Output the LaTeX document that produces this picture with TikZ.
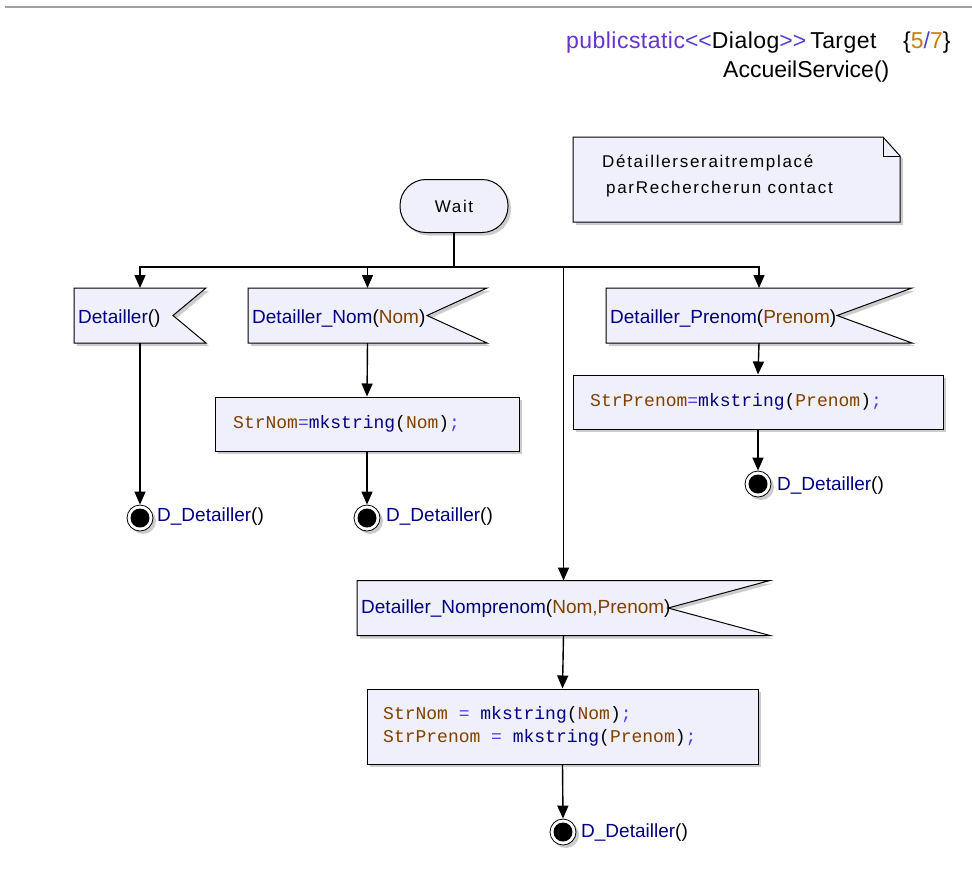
\documentclass[tikz,border=0pt]{standalone}
\usepackage{fontspec}
\setmainfont{Liberation Sans}
\newfontfamily\codefont{Liberation Mono}
\newfontfamily\spacedfont[LetterSpace=10]{Liberation Sans}
\newfontfamily\titlefont[LetterSpace=2]{Liberation Sans}
\usetikzlibrary{arrows.meta,shadows,calc}

\definecolor{boxfill}{RGB}{240,240,252}
\definecolor{evname}{RGB}{0,0,128}
\definecolor{param}{RGB}{128,64,0}
\definecolor{kwpurple}{RGB}{102,51,204}
\definecolor{opviolet}{RGB}{80,64,220}
\definecolor{numgold}{RGB}{192,128,16}
\definecolor{rulegrey}{RGB}{160,160,160}

\begin{document}
\begin{tikzpicture}[x=1pt,y=1pt,
  shade/.style={drop shadow={shadow xshift=3pt,shadow yshift=-3pt,fill=black!40,opacity=.5}},
  slot/.style={rectangle,inner sep=0pt,outer sep=0pt,minimum height=#1},
  slot/.default=55pt,
  figure/.style={draw=black,fill=boxfill,line width=1pt,shade},
  flow/.style={-{Triangle[length=13pt,width=11pt]},line width=1.4pt},
  link/.style={line width=1.4pt},
  evtext/.style={anchor=base west,inner sep=0pt,font=\fontsize{19}{23}\selectfont},
  codetext/.style={anchor=base west,inner sep=0pt,font=\codefont\fontsize{18}{22}\selectfont},
  final/.style={circle,draw=black,fill=white,line width=.8pt,minimum size=26pt,inner sep=0pt,shade},
]
\useasboundingbox (0,0) rectangle (972,-871);

% header rule and title
\draw[rulegrey,line width=1.2pt] (5,-7) -- (972,-7);
\node[anchor=base west,inner sep=0pt,font=\titlefont\fontsize{23}{27}\selectfont] (title) at (566,-48)
  {\textcolor{kwpurple}{publicstatic}\textcolor{opviolet}{<\kern0pt<}Dialog\textcolor{opviolet}{>\kern0pt>}\kern4pt Target};
\node[anchor=base west,inner sep=0pt,font=\fontsize{23}{27}\selectfont] (count) at (903,-48)
  {\{\textcolor{numgold}{5}\textcolor{opviolet}{/}\textcolor{numgold}{7}\}};
\node[anchor=base west,inner sep=0pt,font=\fontsize{23}{27}\selectfont] (service) at (723,-77)
  {AccueilService()};

% note with folded corner
\node[slot=85pt,minimum width=327pt] (note) at (736.5,-179.5) {};
\path[figure] (note.north west) -- ($(note.north east)+(-17,0)$) -- ($(note.north east)+(0,-19)$)
  -- (note.south east) -- (note.south west) -- cycle;
\draw[line width=1pt] ($(note.north east)+(-17,0)$) -- ($(note.north east)+(-17,-19)$) -- ($(note.north east)+(0,-19)$);
\node[anchor=base west,inner sep=0pt,font=\spacedfont\fontsize{17}{20}\selectfont] (notea) at (602,-167) {Détaillerseraitremplacé};
\node[anchor=base west,inner sep=0pt,font=\spacedfont\fontsize{17}{20}\selectfont] (noteb) at (606,-193) {parRechercherun contact};

% wait state
\node[figure,rectangle,rounded corners=26pt,minimum width=108pt,minimum height=53pt,inner sep=0pt,
  font=\spacedfont\fontsize{17}{20}\selectfont] (wait) at (454,-206) {Wait};

% signal receipts
\node[slot,minimum width=132pt] (e1) at (140,-315.5) {};
\node[slot,minimum width=239pt] (e2) at (367.5,-315.5) {};
\node[slot,minimum width=306pt] (e3) at (759,-315.5) {};
\node[slot,minimum width=413pt] (e4) at (563.5,-608) {};
\foreach \e/\d in {e1/33,e2/60,e3/75,e4/102}{
  \path[figure] (\e.north west) -- (\e.north east) -- ($(\e.east)+(-\d,0)$) -- (\e.south east)
    -- (\e.south west) -- cycle;
}
\node[evtext] (e1t) at (78,-323) {\textcolor{evname}{Detailler}()};
\node[evtext] (e2t) at (252,-323) {\textcolor{evname}{Detailler\_Nom}(\textcolor{param}{Nom})};
\node[evtext] (e3t) at (610,-323) {\textcolor{evname}{Detailler\_Prenom}(\textcolor{param}{Prenom})};
\node[evtext] (e4t) at (361,-613) {\textcolor{evname}{Detailler\_Nomprenom}(\textcolor{param}{Nom,Prenom})};

% code blocks
\node[figure,rectangle,minimum width=304pt,minimum height=54pt,inner sep=0pt] (c1) at (367,-424) {};
\node[figure,rectangle,minimum width=370pt,minimum height=54pt,inner sep=0pt] (c2) at (758,-402) {};
\node[figure,rectangle,minimum width=391pt,minimum height=75pt,inner sep=0pt] (c3) at (562.5,-726.5) {};
\node[codetext] (c1t) at (233,-428)
  {\textcolor{param}{StrNom}\textcolor{opviolet}{=}\textcolor{evname}{mkstring}(\textcolor{param}{Nom})\textcolor{opviolet}{;}};
\node[codetext] (c2t) at (590,-406)
  {\textcolor{param}{StrPrenom}\textcolor{opviolet}{=}\textcolor{evname}{mkstring}(\textcolor{param}{Prenom})\textcolor{opviolet}{;}};
\node[codetext] (c3a) at (383,-719)
  {\textcolor{param}{StrNom} \textcolor{opviolet}{=} \textcolor{evname}{mkstring}(\textcolor{param}{Nom})\textcolor{opviolet}{;}};
\node[codetext] (c3b) at (383,-742)
  {\textcolor{param}{StrPrenom} \textcolor{opviolet}{=} \textcolor{evname}{mkstring}(\textcolor{param}{Prenom})\textcolor{opviolet}{;}};

% final states
\node[final] (f1) at (140,-518) {};
\node[final] (f2) at (367,-518) {};
\node[final] (f3) at (758,-484) {};
\node[final] (f4) at (563,-832) {};
\foreach \f in {f1,f2,f3,f4}{ \fill[black] (\f.center) circle (9.5pt); }
\node[evtext] (f1t) at (157,-521) {\textcolor{evname}{D\_Detailler}()};
\node[evtext] (f2t) at (386,-521) {\textcolor{evname}{D\_Detailler}()};
\node[evtext] (f3t) at (777,-490) {\textcolor{evname}{D\_Detailler}()};
\node[evtext] (f4t) at (581,-837) {\textcolor{evname}{D\_Detailler}()};

% connectors
\coordinate (bus) at (454,-267);
\draw[link] (wait.south) -- (bus);
\draw[flow] (bus) -| (e1.north);
\draw[flow] (bus) -| (e2.north);
\draw[flow] (bus) -| (e3.north);
\draw[flow] (bus) -| (e4.north);
\draw[flow] (e1.south) -- (f1.north);
\draw[flow] (e2.south) -- (c1.north);
\draw[flow] (c1.south) -- (f2.north);
\draw[flow] (e3.south) -- (c2.north);
\draw[flow] (c2.south) -- (f3.north);
\draw[flow] (e4.south) -- (c3.north);
\draw[flow] (c3.south) -- (f4.north);
\end{tikzpicture}
\end{document}
